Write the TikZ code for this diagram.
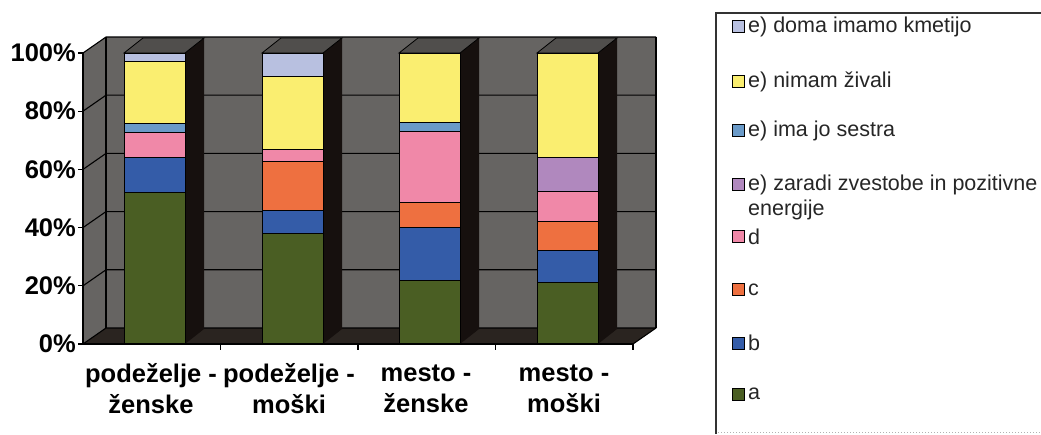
\documentclass[tikz,border=0pt]{standalone}
\usepackage{fontspec}
\setmainfont{Liberation Sans}
\usetikzlibrary{positioning}

\definecolor{ca}{RGB}{74,94,35}
\definecolor{cb}{RGB}{52,92,168}
\definecolor{cc}{RGB}{238,112,64}
\definecolor{cd}{RGB}{240,136,168}
\definecolor{ce}{RGB}{176,136,190}
\definecolor{cf}{RGB}{106,154,200}
\definecolor{cg}{RGB}{250,238,112}
\definecolor{ch}{RGB}{184,192,224}
\definecolor{wallgrey}{RGB}{102,100,98}
\definecolor{floordark}{RGB}{42,36,32}
\definecolor{barside}{RGB}{22,16,14}
\definecolor{bartop}{RGB}{80,78,76}

\tikzset{
  axislabel/.style={font=\fontsize{25.5}{31}\selectfont\bfseries, text=black, inner sep=1pt},
  legtext/.style={font=\fontsize{21.5}{25}\selectfont, text=black!85, align=left, anchor=west, inner sep=0pt},
  legbox/.style={draw=black, line width=1pt, minimum size=12pt, inner sep=0pt},
  gridline/.style={line width=1.1pt, black},
}

\begin{document}
\begin{tikzpicture}[x=1pt,y=1pt]
\useasboundingbox (0,0) rectangle (1041,434);
% walls and floor
\fill[wallgrey] (83,90) -- (106,106) -- (106,397) -- (83,381) -- cycle;
\fill[wallgrey] (106,106) rectangle (656,397);
\fill[floordark] (83,90) -- (633,90) -- (656,106) -- (106,106) -- cycle;
\foreach \p in {0,20,...,100}
  \draw[gridline] (83,{90+2.91*\p}) -- (106,{106+2.91*\p}) -- (656,{106+2.91*\p});
\draw[gridline] (106,106) -- (106,397);
\draw[gridline] (83,90) -- (83,381);
\draw[gridline] (656,106) -- (656,397);
\draw[gridline] (633,90) -- (656,106);

% bars
\foreach \x/\segs in {124/{0/52/ca,52/64/cb,64/72.6/cd,72.6/75.7/cf,75.7/97/cg,97/100/ch},
    262/{0/38/ca,38/46/cb,46/62.7/cc,62.7/67/cd,67/91.8/cg,91.8/100/ch},
    399/{0/22/ca,22/40/cb,40/48.6/cc,48.6/73/cd,73/76/cf,76/100/cg},
    537/{0/21/ca,21/32/cb,32/42/cc,42/52.4/cd,52.4/64/ce,64/100/cg}}{
  \fill[barside] ({\x+61},90) -- ({\x+80},105) -- ({\x+80},396) -- ({\x+61},381) -- cycle;
  \filldraw[fill=bartop, draw=black, line width=0.8pt] (\x,381) -- ({\x+19},396) -- ({\x+80},396) -- ({\x+61},381) -- cycle;
  \foreach \lo/\hi/\col in \segs
    \filldraw[fill=\col, draw=black, line width=0.8pt] (\x,{90+2.91*\lo}) rectangle ({\x+61},{90+2.91*\hi});
}

% axes
\draw[line width=1.2pt] (83,90) -- (83,381);
\draw[line width=1.2pt] (83,90) -- (633,90);
\foreach \p in {0,20,...,100}{
  \draw[line width=1.2pt] (78,{90+2.91*\p}) -- (83,{90+2.91*\p});
  \node[axislabel, anchor=east] (lab\p) at (77,{90+2.91*\p}) {\p\%};
}
\foreach \k in {1,...,4}
  \draw[line width=1.2pt] ({83+137.5*\k},90) -- ({83+137.5*\k},84);
\foreach \c/\t [count=\i] in {151/{podeželje -\\ženske}, 289/{podeželje -\\moški},
    426/{mesto -\\ženske}, 564/{mesto -\\moški}}
  \node[axislabel, align=center] (cat\i) at (\c,45) {\t};

% legend
\draw[line width=1.3pt, black!80] (716,0) -- (716,421) -- (1041,421);
\draw[black!30, dotted, line width=1pt] (718,2) -- (1041,2);
\foreach \y/\ty/\col/\txt [count=\i] in {407/407/ch/{e) doma imamo kmetijo},
    352/352/cg/{e) nimam živali}, 303/303/cf/{e) ima jo sestra},
    249/236.5/ce/{e) zaradi zvestobe in pozitivne\\energije},
    197/197/cd/d, 144/144/cc/c, 91/91/cb/b, 40/40/ca/a}{
  \node[legbox, fill=\col] (key\i) at (738.5,\y) {};
  \node[legtext] (leg\i) at (748,\ty) {\txt};
}
\end{tikzpicture}
\end{document}
